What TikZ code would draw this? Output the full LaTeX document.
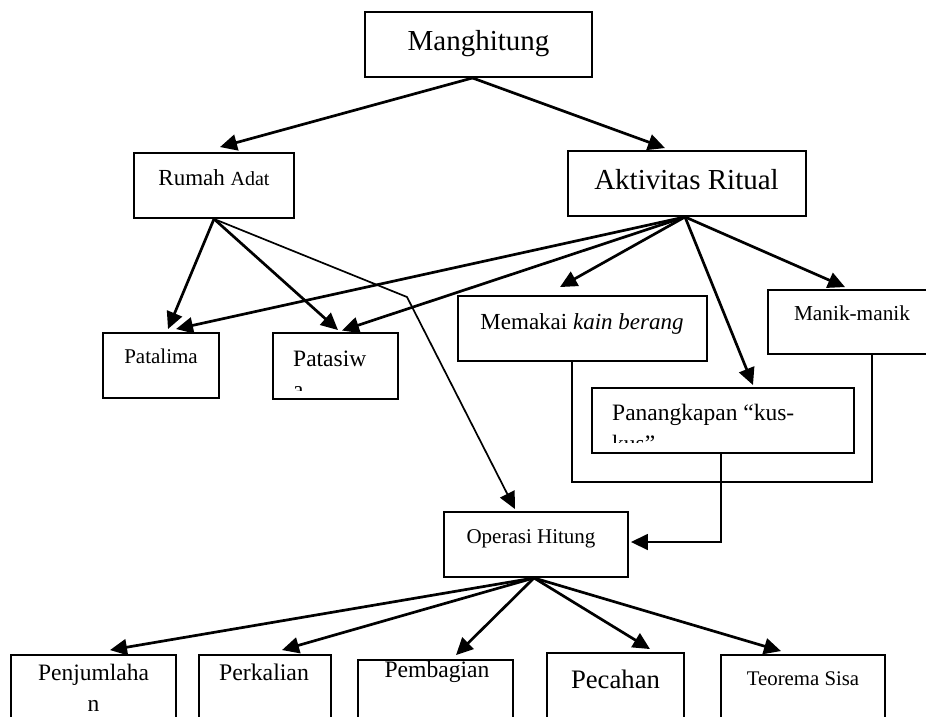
\documentclass[tikz,border=0pt]{standalone}
\usepackage{fontspec}
\setmainfont{Liberation Serif}
\usetikzlibrary{arrows.meta,calc}
\newcommand\fsz[1]{\fontsize{#1}{#1}\selectfont}

\begin{document}
\begin{tikzpicture}[x=1pt,y=-1pt,
  box/.style={draw, line width=1.9pt, inner sep=0pt, minimum height=65pt},
  lbl/.style={inner sep=0pt, anchor=base},
  lblw/.style={inner sep=0pt, anchor=base west},
  arr/.style={line width=2.7pt, -{Triangle[length=17pt,width=16pt]}},
  thinarr/.style={line width=1.7pt, -{Triangle[length=17pt,width=16pt]}},
  link/.style={line width=1.7pt},
]
\path[use as bounding box, fill=white] (0,0) rectangle (926,716);
\clip (0,0) rectangle (926,716);

% boxes
\node[box, minimum width=227pt] (mang) at (478.5,44.5) {};
\node[box, minimum width=160pt] (rumah) at (214,185.5) {};
\node[box, minimum width=238pt] (aktiv) at (687,183.5) {};
\node[box, minimum width=116pt] (patalima) at (161,365.5) {};
\node[box, minimum width=125pt, minimum height=66pt] (patasiwa) at (335.5,366) {};
\node[box, minimum width=249pt] (memakai) at (582.5,328.5) {};
\node[box, minimum width=168pt, minimum height=64pt] (manik) at (852,322) {};
\node[box, minimum width=262pt] (panang) at (723,420.5) {};
\node[box, minimum width=184pt] (operasi) at (536,544.5) {};
\node[box, minimum width=165pt, minimum height=80pt] (penj) at (93.5,695) {};
\node[box, minimum width=132pt, minimum height=80pt] (perk) at (265,695) {};
\node[box, minimum width=155pt, minimum height=80pt] (pemb) at (435.5,700) {};
\node[box, minimum width=137pt, minimum height=80pt] (pecah) at (615.5,693) {};
\node[box, minimum width=164pt, minimum height=80pt] (teorema) at (803,695) {};

% labels
\node[lbl, font=\fsz{29}] (t-mang) at (478.5,50) {Manghitung};
\node[lbl] (t-rumah) at (214,185) {\fsz{23}Rumah \fsz{20}Adat};
\node[lbl, font=\fsz{29}] (t-aktiv) at (686.5,189) {Aktivitas Ritual};
\node[lbl, font=\fsz{21}] (t-patalima) at (161,363) {Patalima};
\begin{scope}
  \clip ($(patasiwa.south west)+(0,-9)$) rectangle (patasiwa.north east);
  \node[lblw, font=\fsz{23.5}] (t-patasiwa) at (293,366) {Patasiw};
  \node[lblw, font=\fsz{23.5}] (t-patasiwa2) at (293,397.5) {a};
\end{scope}
\node[lbl, font=\fsz{23}] (t-memakai) at (582,329) {Memakai \textit{kain berang}};
\node[lbl, font=\fsz{21.3}] (t-manik) at (852,320) {Manik-manik};
\begin{scope}
  \clip ($(panang.south west)+(0,-11)$) rectangle (panang.north east);
  \node[lblw, font=\fsz{23.5}] (t-panang) at (612,420) {Panangkapan “kus-};
  \node[lblw, font=\fsz{23.5}] (t-panang2) at (612,451) {kus”};
\end{scope}
\node[lbl, font=\fsz{21}] (t-operasi) at (531,543) {Operasi Hitung};
\node[lbl, font=\fsz{23.5}] (t-penj) at (93.5,680) {Penjumlaha};
\node[lbl, font=\fsz{23.5}] (t-penj2) at (93.5,711) {n};
\node[lbl, font=\fsz{23.8}] (t-perk) at (264,680) {Perkalian};
\node[lbl, font=\fsz{23.6}] (t-pemb) at (437,677) {Pembagian};
\node[lbl, font=\fsz{26.7}] (t-pecah) at (615.5,688) {Pecahan};
\node[lbl, font=\fsz{20.8}] (t-teorema) at (803,685) {Teorema Sisa};

% connectors from the root
\draw[arr] ($(mang.south)+(-6,0)$) -- ($(rumah.north)+(6,-5)$);
\draw[arr] ($(mang.south)+(-6,0)$) -- ($(aktiv.north)+(-22,-2)$);

% connectors from Rumah Adat
\coordinate (bend) at (407,297);
\draw[arr] (rumah.south) -- ($(patalima.north)+(7,-3)$);
\draw[arr] (rumah.south) -- ($(patasiwa.north)+(2.5,-2)$);
\draw[thinarr] (rumah.south) -- (bend) -- ($(operasi.north)+(-21,-2)$);

% connectors from Aktivitas Ritual
\draw[arr] ($(aktiv.south)+(-2,0)$) -- ($(patalima.north)+(15,-3)$);
\draw[arr] ($(aktiv.south)+(-2,0)$) -- ($(patasiwa.north)+(6.5,-1.5)$);
\draw[arr] ($(aktiv.south)+(-2,0)$) -- ($(memakai.north)+(-22.5,-8)$);
\draw[arr] ($(aktiv.south)+(-2,0)$) -- ($(panang.north)+(30,-2)$);
\draw[arr] ($(aktiv.south)+(-2,0)$) -- ($(manik.north)+(-7,-2)$);

% bracket joining the ritual items into Operasi Hitung
\draw[link] ($(memakai.south)+(-10.5,0)$) -- ++(0,120) -| ($(manik.south)+(20,0)$);
\draw[thinarr] ($(panang.south)+(-2,0)$) |- ($(operasi.east)+(2,-2.5)$);

% connectors from Operasi Hitung
\draw[arr] ($(operasi.south)+(-2,0)$) -- ($(penj.north)+(16.5,-4)$);
\draw[arr] ($(operasi.south)+(-2,0)$) -- ($(perk.north)+(17,-4)$);
\draw[arr] ($(operasi.south)+(-2,0)$) -- ($(pemb.north)+(20.5,-4)$);
\draw[arr] ($(operasi.south)+(-2,0)$) -- ($(pecah.north)+(34.5,-3)$);
\draw[arr] ($(operasi.south)+(-2,0)$) -- ($(teorema.north)+(-22,-3)$);
\end{tikzpicture}
\end{document}
